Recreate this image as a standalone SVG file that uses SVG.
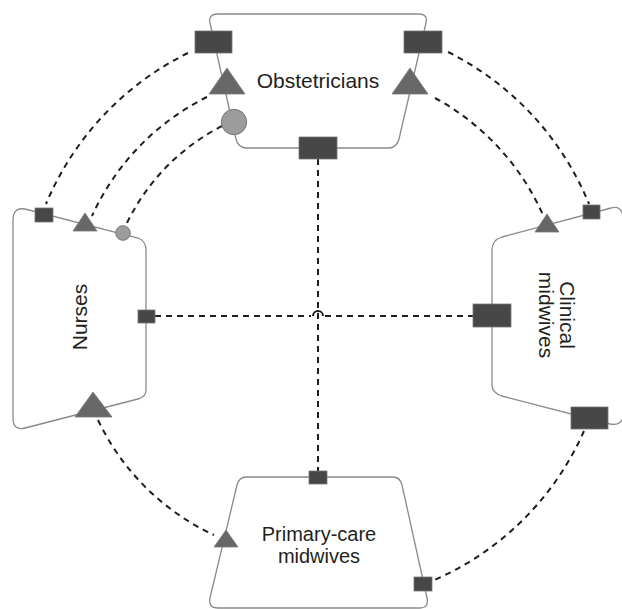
<svg xmlns="http://www.w3.org/2000/svg" width="622" height="609" viewBox="0 0 622 609">
<style>
.outline{fill:none;stroke:#8a8a8a;stroke-width:1.3}
.conn{fill:none;stroke:#1e1e1e;stroke-width:2;stroke-dasharray:6 5}
.hop{fill:none;stroke:#1e1e1e;stroke-width:2}
.rp{fill:#474747;stroke:#777;stroke-width:0.8}
.tp{fill:#676767;stroke:#777;stroke-width:0.8}
.cp{fill:#9c9c9c;stroke:#777;stroke-width:1}
.lbl{font-family:"Liberation Sans",Arial,sans-serif;font-size:21px;fill:#231f20;text-anchor:middle}
.lbl2{font-family:"Liberation Sans",Arial,sans-serif;font-size:20px;fill:#231f20;text-anchor:middle}
</style>
<rect width="622" height="609" fill="#fff"/>
<g id="connectors">
<path class="conn" d="M188,53 A295,295 0 0 0 46,204"/>
<path class="conn" d="M207,97 A247,247 0 0 0 92,216"/>
<path class="conn" d="M222,126 A214,214 0 0 0 126,225"/>
<path class="conn" d="M448,52 A294,294 0 0 1 589,204"/>
<path class="conn" d="M435,98 A248,248 0 0 1 543,215"/>
<path class="conn" d="M98,420 A241,241 0 0 0 214,535"/>
<path class="conn" d="M584,431 A290,290 0 0 1 432,581"/>
<path class="conn" d="M318,159 V471"/>
<path class="conn" d="M155,316 H311 M325,316 H473"/>
<path class="hop" d="M313,316 A5,5 0 0 1 323,316"/>
</g>
<g id="obstetricians">
<path class="outline" d="M218,14 L419,14 Q428,14 426,23 L399,139 Q397,148 388,148 L247,148 Q238,148 236,139 L210,23 Q208,14 218,14 Z"/>
<text class="lbl" x="318" y="88">Obstetricians</text>
<rect class="rp" x="195" y="31" width="37" height="22"/>
<rect class="rp" x="404" y="31" width="38" height="22"/>
<rect class="rp" x="299" y="137" width="38" height="22"/>
<polygon class="tp" points="227,68 245,94 209,94"/>
<polygon class="tp" points="410,68 428,94 392,94"/>
<circle class="cp" cx="234" cy="122" r="12.7"/>
</g>
<g id="nurses">
<path class="outline" d="M13,220 Q13,207 25,209 L138,238 Q146,241 146,250 L146,390 Q146,397 138,399 L25,428 Q13,431 13,418 Z"/>
<text class="lbl" transform="translate(87,317) rotate(-90)">Nurses</text>
<rect class="rp" x="35" y="208" width="18" height="14"/>
<rect class="rp" x="138" y="310" width="17" height="13"/>
<polygon class="tp" points="85,213 97,231 73,231"/>
<polygon class="tp" points="93,392 112,417 75,417"/>
<circle class="cp" cx="123" cy="233" r="7.3"/>
</g>
<g id="clinical-midwives">
<path class="outline" d="M623,216 Q621,205 611,208 L502,237 Q492,240 492,250 L492,385 Q492,393 502,396 L610,424 Q620,426 623,418"/>
<text class="lbl" transform="translate(560,315) rotate(90)"><tspan x="0" y="0">Clinical</tspan><tspan x="0" y="21">midwives</tspan></text>
<rect class="rp" x="583" y="205" width="17" height="14"/>
<rect class="rp" x="473" y="304" width="38" height="23"/>
<rect class="rp" x="571" y="407" width="37" height="22"/>
<polygon class="tp" points="547,214 559,232 535,232"/>
</g>
<g id="primary-care-midwives">
<path class="outline" d="M246,477 L393,477 Q400,477 402,485 L427,598 Q429,608 420,608 L218,608 Q208,608 210,598 L237,485 Q239,477 246,477 Z"/>
<text class="lbl2"><tspan x="319" y="541">Primary-care</tspan><tspan x="319" y="563">midwives</tspan></text>
<rect class="rp" x="309" y="471" width="18" height="13"/>
<rect class="rp" x="414" y="577" width="18" height="14"/>
<polygon class="tp" points="226,530 238,547 214,547"/>
</g>
</svg>
